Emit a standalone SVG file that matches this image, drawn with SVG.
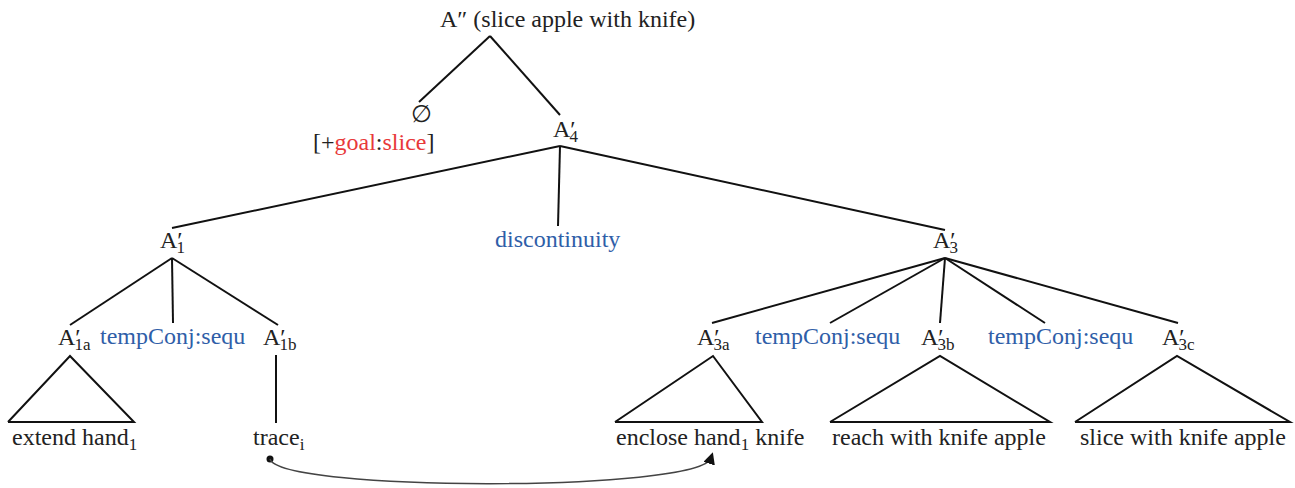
<svg xmlns="http://www.w3.org/2000/svg" width="1295" height="488" viewBox="0 0 1295 488">
<style>
text{font-family:"Liberation Serif","Times New Roman",serif;font-size:24px;fill:#222}
.b{fill:#2f5ea8}
.r{fill:#e8393a}
.s{font-size:17px}
.e line,.e polyline{stroke:#111;stroke-width:2;fill:none}
</style>
<defs>
<marker id="ah" viewBox="0 0 10 10" refX="5" refY="5" markerWidth="8" markerHeight="8" orient="auto">
<path d="M0,0 L10,5 L0,10 z" fill="#111"/>
</marker>
</defs>
<g id="root"><text x="440" y="27">A″ (slice apple with knife)</text></g>
<g id="null"><text x="411" y="122">∅</text><text x="313" y="150">[+<tspan class="r">goal</tspan>:<tspan class="r">slice</tspan>]</text></g>
<g id="A4"><text x="553" y="137">A′<tspan class="s" dx="-6" dy="5">4</tspan></text></g>
<g id="A1"><text x="160" y="248">A′<tspan class="s" dx="-6" dy="5">1</tspan></text></g>
<g id="disc"><text class="b" x="495" y="247">discontinuity</text></g>
<g id="A3"><text x="933" y="248">A′<tspan class="s" dx="-6" dy="5">3</tspan></text></g>
<g id="A1a"><text x="58" y="345">A′<tspan class="s" dx="-6" dy="5">1a</tspan></text></g>
<g id="tc1"><text class="b" x="100" y="344">tempConj:sequ</text></g>
<g id="A1b"><text x="263" y="345">A′<tspan class="s" dx="-6" dy="5">1b</tspan></text></g>
<g id="A3a"><text x="697" y="345">A′<tspan class="s" dx="-6" dy="5">3a</tspan></text></g>
<g id="tc2"><text class="b" x="755" y="344">tempConj:sequ</text></g>
<g id="A3b"><text x="921" y="345">A′<tspan class="s" dx="-6" dy="5">3b</tspan></text></g>
<g id="tc3"><text class="b" x="988" y="344">tempConj:sequ</text></g>
<g id="A3c"><text x="1162" y="345">A′<tspan class="s" dx="-6" dy="5">3c</tspan></text></g>
<g id="leaf1"><text x="12" y="445">extend hand<tspan class="s" dy="5">1</tspan></text></g>
<g id="trace"><text x="253" y="445">trace<tspan class="s" dy="5">i</tspan></text></g>
<g id="leaf3a"><text x="616" y="445">enclose hand<tspan class="s" dy="5">1</tspan><tspan dy="-5"> knife</tspan></text></g>
<g id="leaf3b"><text x="832" y="445">reach with knife apple</text></g>
<g id="leaf3c"><text x="1080" y="445">slice with knife apple</text></g>
<g id="connectors" class="e">
<line x1="490" y1="36" x2="419" y2="102"/>
<line x1="490" y1="36" x2="560" y2="115"/>
<line x1="560" y1="146" x2="172" y2="228"/>
<line x1="560" y1="146" x2="558" y2="226"/>
<line x1="560" y1="146" x2="945" y2="230"/>
<line x1="172" y1="258" x2="70" y2="325"/>
<line x1="172" y1="258" x2="173" y2="323"/>
<line x1="172" y1="258" x2="278" y2="325"/>
<line x1="945" y1="258" x2="712" y2="323"/>
<line x1="945" y1="258" x2="830" y2="323"/>
<line x1="945" y1="258" x2="940" y2="323"/>
<line x1="945" y1="258" x2="1045" y2="323"/>
<line x1="945" y1="258" x2="1178" y2="323"/>
<polyline points="8,422 70,356 134,422 8,422"/>
<line x1="276" y1="355" x2="276" y2="423"/>
<polyline points="615,422 713,356 762,422 615,422"/>
<polyline points="830,422 940,356 1050,422 830,422"/>
<polyline points="1075,422 1177,356 1290,422 1075,422"/>
<circle cx="270" cy="459" r="3.5" fill="#111" stroke="none"/>
<path d="M270,459 C280,492 700,492 711,458" stroke="#444" stroke-width="1.5" fill="none" marker-end="url(#ah)"/>
</g>
</svg>
